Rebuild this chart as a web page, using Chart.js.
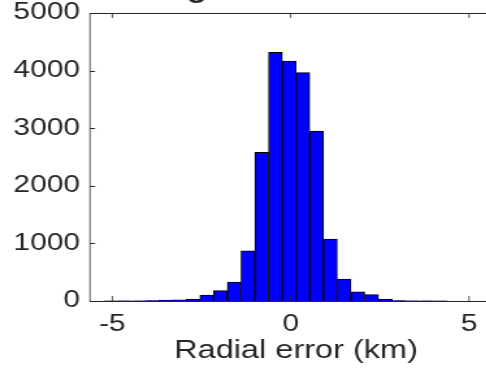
<!DOCTYPE html>
<html>
<head>
<meta charset="utf-8">
<script src="https://cdn.jsdelivr.net/npm/chart.js@4/dist/chart.umd.min.js"></script>
<style>
  body { margin: 0; background: #fff; }
  #wrap { position: relative; width: 486px; height: 368px; overflow: hidden; }
  /* the reference figure is stretched sideways, so is this one */
  #chart { position: absolute; left: 0; top: -40px; transform: scaleX(1.3); transform-origin: 0 0; }
</style>
</head>
<body>
<div id="wrap"><canvas id="chart" width="392" height="408"></canvas></div>
<script>
// histogram data (bin centres in km, counts)
const binCenters = [-5.4325, -5.0475, -4.6625, -4.2775, -3.8925, -3.5075, -3.1225, -2.7375, -2.3525, -1.9675,
                    -1.5825, -1.1975, -0.8125, -0.4275, -0.0425, 0.3425, 0.7275, 1.1125, 1.4975, 1.8825,
                    2.2675, 2.6525, 3.0375, 3.4225, 3.8075, 4.1925, 4.5775, 4.9625, 5.3475, 5.7325];
const counts = [0, 1, 3, 5, 9, 15, 22, 35, 102, 179,
                330, 873, 2580, 4318, 4167, 3964, 2951, 1076, 382, 161,
                110, 32, 9, 4, 2, 1, 0, 0, 0, 0];
const xTicks = [-5, 0, 5];
const yTicks = [0, 1000, 2000, 3000, 4000, 5000];
const xRange = [-5.625, 5.925];

const axisColor = '#262626';
const stretch = 1.3;

// MATLAB style box with inward tick marks
const boxTicks = {
    id: 'boxTicks',
    afterDatasetsDraw(chart) {
        const { ctx, chartArea: a, scales } = chart;
        ctx.save();
        ctx.strokeStyle = axisColor;
        ctx.lineWidth = 1;
        ctx.beginPath();
        const lenY = 5, lenX = 5 / stretch;
        ctx.moveTo(a.left, Math.round(a.top) + 0.5); ctx.lineTo(a.right, Math.round(a.top) + 0.5);
        ctx.moveTo(a.left, Math.round(a.bottom) + 0.5); ctx.lineTo(a.right, Math.round(a.bottom) + 0.5);
        ctx.stroke();
        ctx.beginPath();
        ctx.lineWidth = 1 / stretch;
        ctx.moveTo(a.left, a.top); ctx.lineTo(a.left, a.bottom + 1);
        ctx.moveTo(a.right, a.top); ctx.lineTo(a.right, a.bottom + 1);
        xTicks.forEach(v => {
            const x = scales.x.getPixelForValue(v);
            ctx.moveTo(x, a.bottom); ctx.lineTo(x, a.bottom - lenY);
            ctx.moveTo(x, a.top); ctx.lineTo(x, a.top + lenY);
        });
        ctx.stroke();
        ctx.beginPath();
        ctx.lineWidth = 1;
        yTicks.forEach(v => {
            const y = Math.round(scales.y.getPixelForValue(v)) + 0.5;
            ctx.moveTo(a.left, y); ctx.lineTo(a.left + lenX, y);
            ctx.moveTo(a.right, y); ctx.lineTo(a.right - lenX, y);
        });
        ctx.stroke();
        ctx.restore();
    }
};

const ctx = document.getElementById('chart').getContext('2d');
new Chart(ctx, {
    type: 'bar',
    data: {
        datasets: [{
            data: binCenters.map((c, i) => ({ x: c, y: counts[i] })),
            backgroundColor: '#0000ff',
            borderColor: '#000000',
            borderWidth: 1,
            barPercentage: 1,
            categoryPercentage: 1
        }]
    },
    options: {
        responsive: false,
        animation: false,
        layout: { padding: { left: 0, right: 5.8, top: 0, bottom: 0 } },
        plugins: {
            legend: { display: false },
            tooltip: { enabled: false },
            title: {
                display: true,
                fullSize: false,
                text: 'Histogram of radial error',
                color: axisColor,
                font: { family: 'Liberation Sans', size: 25, weight: 'bold', lineHeight: 1.2 },
                padding: { top: 16.3, bottom: 6.7 }
            }
        },
        scales: {
            x: {
                type: 'linear',
                offset: false,
                min: xRange[0],
                max: xRange[1],
                grid: { display: false, drawTicks: false, offset: false },
                border: { display: false },
                afterBuildTicks: s => { s.ticks = xTicks.map(v => ({ value: v })); },
                afterFit: s => { s.height = 67; },
                ticks: {
                    color: axisColor,
                    padding: 10,
                    maxRotation: 0,
                    font: { family: 'Liberation Sans', size: 23 },
                    callback: v => String(v)
                },
                title: {
                    display: true,
                    text: 'Radial error (km)',
                    color: axisColor,
                    font: { family: 'Liberation Sans', size: 25 },
                    padding: { top: 0, bottom: 1.4 }
                }
            },
            y: {
                min: 0,
                max: 5000,
                grid: { display: false, drawTicks: false },
                border: { display: false },
                afterBuildTicks: s => { s.ticks = yTicks.map(v => ({ value: v })); },
                afterFit: s => { s.width = 90 / stretch; },
                ticks: {
                    color: axisColor,
                    padding: 10 / stretch,
                    font: { family: 'Liberation Sans', size: 23 },
                    callback: v => String(v)
                }
            }
        }
    },
    plugins: [boxTicks]
});
</script>
</body>
</html>
